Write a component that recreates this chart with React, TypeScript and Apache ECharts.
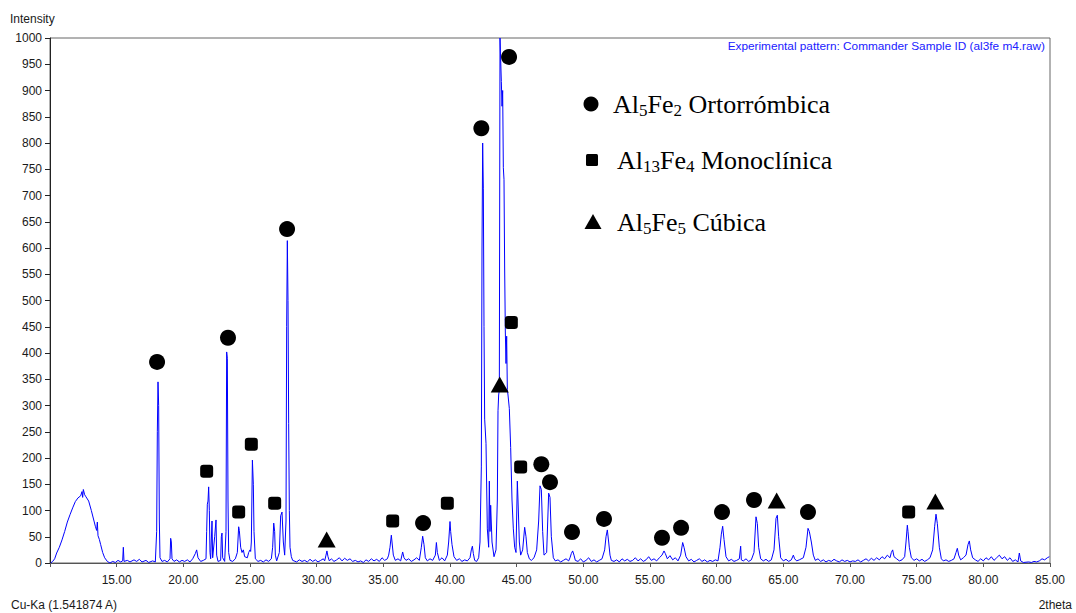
import React, { useEffect, useRef } from "react";
import * as echarts from "echarts";

// ---- Data ----
const xMin = 10;
const xMax = 85;
const xInterval = 5;
const yMax = 1000;
const yInterval = 50;

// XRD pattern, [2theta, intensity]
const humpSegment: [number, number][] = [
  [10.05, 0], [10.2, 3], [10.35, 8], [10.5, 19], [10.7, 30], [10.9, 44], [11.1, 60], [11.3, 78],
  [11.5, 92], [11.7, 105], [11.9, 117], [12.1, 124], [12.3, 128], [12.4, 136], [12.45, 125],
  [12.5, 140], [12.6, 130], [12.7, 126], [12.9, 118], [13.1, 100], [13.3, 80], [13.4, 70],
  [13.5, 62], [13.55, 78], [13.6, 52], [13.7, 45], [13.8, 35], [13.95, 20], [14.1, 10],
  [14.3, 3], [14.5, 0],
];

const lowAngleSegment: [number, number][] = [
  [14.7, 3], [14.9, 1], [15.1, 5], [15.3, 2], [15.45, 4], [15.5, 30], [15.55, 3], [15.8, 5],
  [16.0, 2], [16.3, 6], [16.5, 3], [16.7, 7], [16.9, 2], [17.2, 5], [17.4, 1], [17.7, 4],
  [17.9, 2], [18.0, 60], [18.05, 250], [18.1, 345], [18.15, 300], [18.2, 80], [18.25, 10],
  [18.4, 3], [18.6, 5], [18.8, 2], [19.0, 8], [19.05, 47], [19.1, 40], [19.15, 8], [19.3, 3],
  [19.5, 6], [19.7, 2], [19.9, 5], [20.1, 3], [20.3, 6], [20.5, 2], [20.7, 8], [20.9, 18],
  [21.0, 25], [21.1, 10], [21.3, 3], [21.5, 5], [21.7, 8], [21.75, 60], [21.8, 112],
  [21.85, 118], [21.9, 145], [21.95, 100], [22.0, 20], [22.05, 8], [22.15, 80], [22.2, 10],
  [22.35, 50], [22.45, 82], [22.5, 15], [22.6, 3], [22.8, 5], [22.85, 50], [22.9, 57],
  [22.95, 10], [23.1, 3], [23.2, 60], [23.25, 402], [23.3, 390], [23.35, 120], [23.4, 20],
  [23.5, 5], [23.7, 3], [23.9, 8], [24.05, 20], [24.15, 69], [24.2, 62], [24.3, 30],
  [24.4, 20], [24.5, 25], [24.6, 12], [24.8, 10], [24.9, 20], [25.0, 25], [25.05, 22],
  [25.1, 40], [25.18, 196], [25.25, 150], [25.3, 60], [25.4, 8], [25.6, 3], [25.8, 5],
  [26.0, 2], [26.2, 6], [26.4, 3], [26.6, 8], [26.7, 30], [26.78, 76], [26.85, 60],
  [26.9, 15], [27.0, 4], [27.2, 20], [27.3, 90], [27.4, 97], [27.5, 40], [27.6, 15],
  [27.7, 80], [27.75, 450], [27.8, 614], [27.85, 500], [27.9, 266], [27.95, 100], [28.0, 30],
  [28.1, 12], [28.2, 5],
];

const midAngleSegment: [number, number][] = [
  [28.3, 4], [28.5, 2], [28.7, 6], [28.9, 3], [29.1, 5], [29.3, 2], [29.5, 7], [29.7, 3],
  [29.9, 6], [30.1, 2], [30.3, 5], [30.5, 8], [30.6, 4], [30.7, 15], [30.77, 23], [30.85, 12],
  [30.95, 4], [31.1, 8], [31.3, 3], [31.5, 6], [31.7, 10], [31.9, 4], [32.1, 9], [32.3, 5],
  [32.5, 8], [32.7, 3], [32.9, 5], [33.1, 2], [33.3, 4], [33.5, 1], [33.7, 6], [33.9, 3],
  [34.1, 8], [34.3, 4], [34.5, 7], [34.7, 3], [34.9, 10], [35.1, 5], [35.3, 8], [35.4, 15],
  [35.5, 30], [35.6, 53], [35.65, 40], [35.75, 15], [35.9, 5], [36.1, 8], [36.3, 4],
  [36.45, 21], [36.55, 10], [36.7, 5], [36.9, 8], [37.1, 3], [37.3, 6], [37.5, 10], [37.7, 5],
  [37.85, 30], [37.95, 51], [38.05, 35], [38.15, 10], [38.3, 4], [38.5, 8], [38.7, 5],
  [38.9, 15], [38.98, 39], [39.05, 20], [39.2, 5], [39.4, 10], [39.6, 4], [39.8, 15],
  [39.9, 40], [40.0, 79], [40.05, 60], [40.15, 35], [40.3, 12], [40.5, 5], [40.7, 8],
  [40.9, 3], [41.1, 6], [41.3, 4], [41.5, 10], [41.6, 25], [41.68, 32], [41.75, 18],
  [41.85, 5], [42.0, 3], [42.15, 10],
];

const mainClusterSegment: [number, number][] = [
  [42.25, 40], [42.35, 183], [42.4, 600], [42.45, 800], [42.5, 714], [42.55, 450], [42.6, 274],
  [42.7, 228], [42.8, 65], [42.9, 30], [42.95, 156], [43.0, 60], [43.05, 110], [43.15, 40],
  [43.3, 12], [43.45, 25], [43.55, 120], [43.6, 290], [43.65, 320], [43.7, 330], [43.75, 1000],
  [43.8, 1000], [43.85, 917], [43.9, 870], [43.95, 900], [44.0, 753], [44.05, 730], [44.1, 560],
  [44.15, 440], [44.2, 380], [44.25, 432], [44.3, 330], [44.35, 320], [44.45, 294],
  [44.55, 220], [44.65, 120], [44.75, 65], [44.85, 30], [44.95, 20], [45.05, 156], [45.1, 120],
  [45.2, 40], [45.3, 15], [45.45, 25], [45.6, 68], [45.7, 50], [45.8, 20], [45.95, 8],
  [46.1, 5], [46.3, 10], [46.5, 25], [46.65, 80], [46.75, 147], [46.85, 140], [46.95, 60],
  [47.05, 15], [47.25, 20], [47.4, 133], [47.5, 125], [47.6, 50], [47.75, 10], [47.9, 4],
];

const highAngleSegment: [number, number][] = [
  [48.1, 6], [48.3, 2], [48.5, 5], [48.7, 8], [48.9, 4], [49.0, 10], [49.1, 18], [49.2, 23],
  [49.3, 15], [49.4, 5], [49.6, 3], [49.8, 8], [50.0, 2], [50.2, 5], [50.4, 10], [50.6, 3],
  [50.8, 6], [51.0, 2], [51.2, 5], [51.4, 8], [51.6, 25], [51.7, 50], [51.8, 63], [51.9, 40],
  [52.0, 15], [52.1, 5], [52.3, 3], [52.5, 6], [52.7, 2], [52.9, 8], [53.1, 4], [53.3, 7],
  [53.5, 3], [53.7, 5], [53.9, 10], [54.1, 4], [54.3, 8], [54.5, 3], [54.7, 6], [54.9, 12],
  [55.1, 5], [55.3, 8], [55.5, 4], [55.7, 10], [55.9, 15], [56.05, 23], [56.15, 18],
  [56.3, 8], [56.5, 14], [56.7, 6], [56.9, 10], [57.1, 4], [57.3, 15], [57.45, 39],
  [57.55, 30], [57.7, 12], [57.9, 4], [58.1, 7], [58.3, 2], [58.5, 5], [58.7, 8], [58.9, 3],
  [59.1, 6], [59.3, 2], [59.5, 5], [59.7, 3], [59.9, 6], [60.1, 4], [60.25, 30], [60.35, 55],
  [60.45, 70], [60.55, 45], [60.7, 12], [60.9, 4], [61.1, 7], [61.3, 3], [61.5, 5], [61.7, 8],
  [61.8, 32], [61.85, 6], [62.0, 4], [62.2, 8], [62.4, 3], [62.6, 6], [62.8, 20], [62.95, 88],
  [63.05, 75], [63.15, 30], [63.3, 8], [63.5, 4], [63.7, 7], [63.9, 3], [64.1, 6], [64.3, 25],
  [64.45, 85], [64.55, 91], [64.65, 50], [64.8, 10], [65.0, 4], [65.2, 7], [65.4, 3],
  [65.6, 6], [65.75, 15], [65.85, 8], [66.0, 4], [66.2, 6], [66.5, 10], [66.7, 30],
  [66.85, 66], [66.95, 60], [67.1, 40], [67.25, 15], [67.4, 5], [67.6, 8], [67.8, 3],
  [68.0, 6], [68.2, 2], [68.4, 5], [68.6, 3], [68.8, 7], [69.0, 4], [69.2, 2], [69.4, 6],
  [69.6, 3], [69.8, 5], [70.0, 2], [70.2, 4], [70.4, 3], [70.6, 6], [70.8, 2], [71.0, 5],
  [71.2, 8], [71.4, 4], [71.6, 9], [71.8, 5], [72.0, 10], [72.2, 6], [72.4, 12], [72.6, 8],
  [72.8, 15], [73.0, 10], [73.1, 20], [73.2, 25], [73.3, 12], [73.5, 8], [73.7, 4], [73.9, 6],
  [74.1, 12], [74.2, 40], [74.3, 72], [74.35, 60], [74.45, 30], [74.6, 10], [74.8, 5],
  [75.0, 8], [75.2, 4], [75.4, 7], [75.6, 3], [75.8, 6], [76.0, 10], [76.2, 25], [76.35, 70],
  [76.45, 93], [76.55, 75], [76.7, 30], [76.85, 8], [77.0, 4], [77.2, 6], [77.4, 3],
  [77.6, 5], [77.8, 8], [77.95, 20], [78.05, 28], [78.15, 15], [78.3, 6], [78.5, 10],
  [78.7, 15], [78.85, 35], [78.95, 42], [79.05, 25], [79.2, 10], [79.4, 6], [79.6, 3],
  [79.8, 8], [80.0, 4], [80.2, 10], [80.4, 6], [80.6, 12], [80.8, 5], [81.0, 10], [81.2, 15],
  [81.4, 8], [81.6, 12], [81.8, 5], [82.0, 10], [82.2, 3], [82.4, 6], [82.6, 2], [82.7, 19],
  [82.8, 4], [83.0, 1], [83.4, 2], [83.6, 1], [83.8, 3], [84.0, 2], [84.2, 4], [84.4, 8],
  [84.6, 6], [84.8, 10], [84.95, 12],
];

// Phase markers [2theta, intensity]
const al5fe2Orthorhombic: [number, number][] = [
  [18.03, 383], [23.35, 429], [27.78, 636], [42.35, 828], [44.43, 964], [46.85, 188],
  [47.5, 154], [37.98, 76], [49.15, 59], [51.55, 84], [55.9, 48], [57.33, 67], [60.4, 97],
  [62.8, 120], [66.85, 97],
];
const al13fe4Monoclinic: [number, number][] = [
  [21.75, 175], [24.15, 97], [25.1, 226], [26.85, 114], [35.7, 80], [39.8, 114], [44.6, 458],
  [45.3, 183], [74.4, 97],
];
const al5fe5Cubic: [number, number][] = [
  [30.75, 45], [43.73, 340], [64.5, 119], [76.4, 117],
];

const legendItems = [
  { key: "c", parts: ["Al", "5", "Fe", "2", " Ortorrómbica"] },
  { key: "s", parts: ["Al", "13", "Fe", "4", " Monoclínica"] },
  { key: "t", parts: ["Al", "5", "Fe", "5", " Cúbica"] },
];

const annotationText = "Experimental pattern: Commander Sample ID (al3fe m4.raw)";
const yAxisTitle = "Intensity";
const xAxisTitle = "2theta";
const radiationText = "Cu-Ka (1.541874 A)";

export default function App() {
  const ref = useRef<HTMLDivElement>(null);

  useEffect(() => {
    if (!ref.current) return;
    const chart = echarts.init(ref.current, null, { renderer: "svg" });
    const pattern = [
      ...humpSegment,
      ...lowAngleSegment,
      ...midAngleSegment,
      ...mainClusterSegment,
      ...highAngleSegment,
    ];
    const labelFont = "Liberation Sans";
    const serif = "Liberation Serif";
    const rich = {
      n: { fontFamily: serif, fontSize: 26, lineHeight: 30, color: "#000" },
      s: { fontFamily: serif, fontSize: 17, lineHeight: 16, verticalAlign: "bottom", color: "#000" },
    };
    const legendRows = [
      { y: 104, tx: 613 },
      { y: 160, tx: 617 },
      { y: 222, tx: 617 },
    ];
    const legendGraphics: any[] = [];
    legendItems.forEach((it, i) => {
      const row = legendRows[i];
      const text = it.parts
        .map((p, j) => (j % 2 === 1 && j < 4 ? `{s|${p}}` : `{n|${p}}`))
        .join("");
      legendGraphics.push({
        type: "text",
        x: row.tx,
        y: row.y,
        style: { text, rich, verticalAlign: "middle", align: "left" },
      });
    });
    legendGraphics.push(
      { type: "circle", shape: { cx: 591, cy: 104, r: 7.5 }, style: { fill: "#000" } },
      { type: "rect", shape: { x: 586, y: 154, width: 12, height: 12, r: 1.5 }, style: { fill: "#000" } },
      { type: "polygon", shape: { points: [[593, 214], [601.5, 229], [584.5, 229]] }, style: { fill: "#000" } }
    );

    const markerStyle = { color: "#000", opacity: 1 };

    chart.setOption({
      animation: false,
      backgroundColor: "#fff",
      grid: { left: 50, top: 38, width: 1000, height: 525, show: true, borderColor: "#666", borderWidth: 1, backgroundColor: "transparent" },
      xAxis: {
        type: "value",
        min: xMin,
        max: xMax,
        interval: xInterval,
        axisLine: { show: true, onZero: false, lineStyle: { color: "#555", width: 1 } },
        axisTick: { show: true, length: 4, lineStyle: { color: "#555" } },
        axisLabel: {
          margin: 11,
          fontFamily: labelFont,
          fontSize: 12,
          color: "#1a1a1a",
          formatter: (v: number) => (v === xMin ? "" : v.toFixed(2)),
        },
        splitLine: { show: false },
      },
      yAxis: {
        type: "value",
        min: 0,
        max: yMax,
        interval: yInterval,
        axisLine: { show: true, lineStyle: { color: "#222", width: 1 } },
        axisTick: { show: true, length: 5, lineStyle: { color: "#222" } },
        axisLabel: {
          margin: 8,
          fontFamily: labelFont,
          fontSize: 12,
          color: "#1a1a1a",
          formatter: (v: number) => String(v),
        },
        splitLine: { show: false },
      },
      graphic: [
        { type: "text", x: 10, y: 19, style: { text: yAxisTitle, font: `12px ${labelFont}`, fill: "#1a1a1a", verticalAlign: "middle" } },
        { type: "text", x: 11, y: 605, style: { text: radiationText, font: `12px ${labelFont}`, fill: "#1a1a1a", verticalAlign: "middle" } },
        { type: "text", x: 1072, y: 605, style: { text: xAxisTitle, font: `12px ${labelFont}`, fill: "#1a1a1a", align: "right", verticalAlign: "middle" } },
        { type: "text", x: 1045, y: 46, style: { text: annotationText, font: `11.8px ${labelFont}`, fill: "#2020ff", align: "right", verticalAlign: "middle" } },
        ...legendGraphics,
      ],
      series: [
        {
          type: "line",
          data: pattern,
          showSymbol: false,
          symbol: "none",
          lineStyle: { color: "#0000ff", width: 1 },
          clip: true,
          z: 2,
        },
        {
          type: "scatter",
          data: al5fe2Orthorhombic,
          symbol: "circle",
          symbolSize: 16,
          itemStyle: markerStyle,
          z: 5,
        },
        {
          type: "scatter",
          data: al13fe4Monoclinic,
          symbol: "roundRect",
          symbolSize: 13,
          itemStyle: markerStyle,
          z: 5,
        },
        {
          type: "scatter",
          data: al5fe5Cubic,
          symbol: "triangle",
          symbolSize: [18, 16],
          itemStyle: markerStyle,
          z: 5,
        },
      ],
    });
    return () => chart.dispose();
  }, []);

  return (
    <div
      ref={ref}
      style={{ position: "absolute", left: 0, top: 0, width: 1076, height: 613 }}
    />
  );
}
